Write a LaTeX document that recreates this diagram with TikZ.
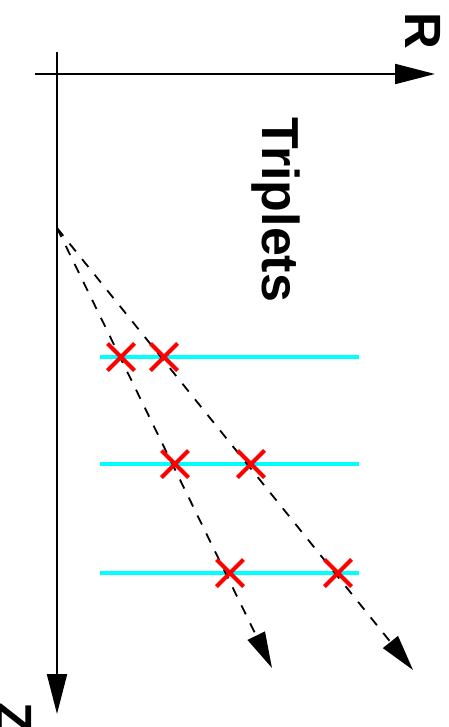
\documentclass[tikz,border=0pt]{standalone}
\usepackage{fontspec}
\setmainfont{Liberation Sans}
\usetikzlibrary{arrows.meta,shapes.misc}
\definecolor{cy}{RGB}{0,255,255}
\definecolor{rd}{RGB}{255,0,0}
\begin{document}
\begin{tikzpicture}[x=1pt,y=-1pt,
  axis/.style={line width=2pt,-{Triangle[length=40pt,width=20pt]}},
  track/.style={line width=1.8pt,dash pattern=on 10pt off 10pt,-{Triangle[length=36pt,width=19pt]}},
  layer/.style={cy,line width=4pt},
  hit/.style={cross out,draw=rd,line width=4pt,inner sep=0pt,minimum size=23pt},
  lbl/.style={font=\fontsize{51}{60}\selectfont\bfseries,rotate=-90,anchor=base west,inner sep=0pt}]
\useasboundingbox (0,0) rectangle (449,727);
% axes
\coordinate (zt) at (57,52);
\coordinate (zb) at (57,714);
\coordinate (rl) at (35,74);
\coordinate (rr) at (435,74);
\draw[axis] (zt) -- (zb);
\draw[axis] (rl) -- (rr);
\node[lbl] (R) at (405,12) {R};
\node[lbl] (Z) at (-4,702) {Z};
\node[lbl] (T) at (262,117) {\fontsize{52}{60}\selectfont Triplets};
% layers
\coordinate (l1a) at (100,357); \coordinate (l1b) at (359,357);
\coordinate (l2a) at (100,464); \coordinate (l2b) at (359,464);
\coordinate (l3a) at (100,573); \coordinate (l3b) at (359,573);
\draw[layer] (l1a) -- (l1b);
\draw[layer] (l2a) -- (l2b);
\draw[layer] (l3a) -- (l3b);
% tracks
\coordinate (o) at (57,228);
\coordinate (t1) at (272,668);
\coordinate (t2) at (413,670);
\draw[track] (o) -- (t1);
\draw[track] (o) -- (t2);
% hits
\node[hit] (h11) at (121,357) {};
\node[hit] (h12) at (164,357) {};
\node[hit] (h21) at (175,464) {};
\node[hit] (h22) at (251,464) {};
\node[hit] (h31) at (230,573) {};
\node[hit] (h32) at (338,573) {};
\end{tikzpicture}
\end{document}
